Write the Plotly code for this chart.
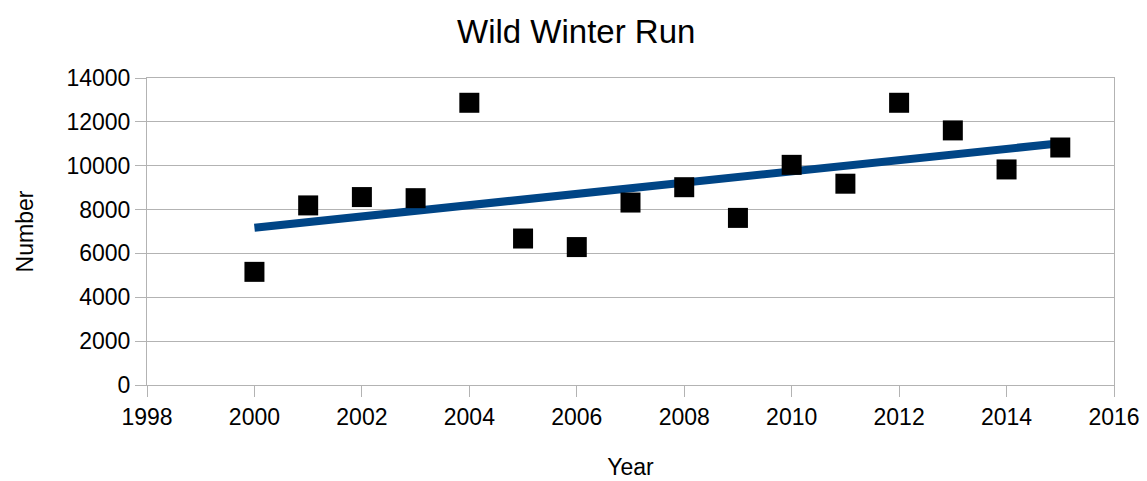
import numpy as np
import plotly.graph_objects as go

years = [2000, 2001, 2002, 2003, 2004, 2005, 2006, 2007, 2008, 2009, 2010, 2011, 2012, 2013, 2014, 2015]
numbers = [5160, 8190, 8570, 8520, 12870, 6680, 6290, 8320, 9020, 7620, 10040, 9180, 12870, 11610, 9830, 10830]
chart_title = "Wild Winter Run"

slope, intercept = np.polyfit(years, numbers, 1)
trend_x = [years[0], years[-1]]
trend_y = [slope * x + intercept for x in trend_x]

FONT = "Liberation Sans"

fig = go.Figure()
fig.add_trace(go.Scatter(
    x=trend_x, y=trend_y, mode="lines",
    line=dict(color="#004586", width=8),
    showlegend=False, hoverinfo="skip"))
fig.add_trace(go.Scatter(
    x=years, y=numbers, mode="markers",
    marker=dict(symbol="square", size=20, color="#000000"),
    showlegend=False))

axis_common = dict(
    showline=True, linecolor="#b3b3b3", linewidth=1, mirror=True,
    gridcolor="#b3b3b3", gridwidth=1,
    ticks="outside", tickcolor="#b3b3b3", ticklen=11,
    tickfont=dict(family=FONT, size=23, color="#000000"),
    zeroline=False, tickformat="d",
)

# page body has an 8px default margin; offsets compensate for it
fig.update_layout(
    width=1147, height=481,
    paper_bgcolor="#ffffff", plot_bgcolor="#ffffff",
    margin=dict(l=139, r=41, t=70, b=104),
    xaxis=dict(range=[1998, 2016], dtick=2, tick0=1998, showgrid=False,
               title=dict(text="Year", font=dict(family=FONT, size=23, color="#000000"), standoff=30),
               **axis_common),
    yaxis=dict(range=[0, 14000], dtick=2000, showgrid=True,
               title=dict(text="Number", font=dict(family=FONT, size=23, color="#000000"), standoff=26),
               **axis_common),
)
fig.add_annotation(
    text=chart_title, xref="paper", yref="paper", x=0.444, y=1.0, yshift=47,
    xanchor="center", yanchor="middle", showarrow=False,
    font=dict(family=FONT, size=33, color="#000000"))

fig.write_html("out.html")
